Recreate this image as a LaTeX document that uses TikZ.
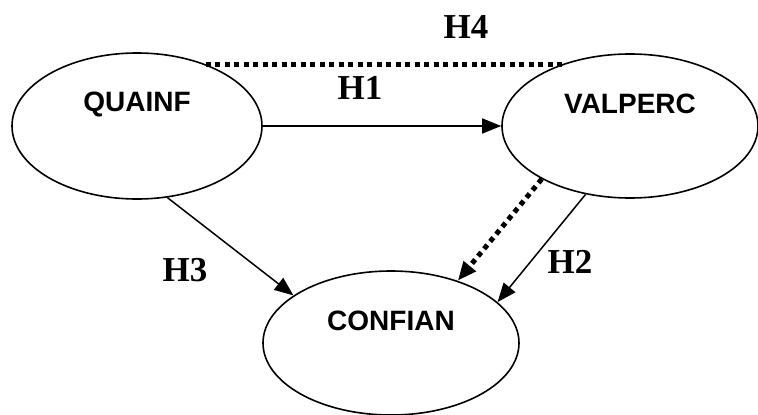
\documentclass[tikz,border=0pt]{standalone}
\usepackage{fontspec}
\setmainfont{Liberation Serif}
\setsansfont{Liberation Sans}
\usetikzlibrary{shapes.geometric,arrows.meta}

\begin{document}
\begin{tikzpicture}[x=1pt, y=-1pt,
  oval/.style={ellipse, draw, line width=1.6pt, inner sep=0pt},
  vartext/.style={font=\sffamily\bfseries\fontsize{28}{28}\selectfont, yshift=22pt},
  hyp/.style={font=\bfseries\fontsize{35}{35}\selectfont},
  tip/.style={-{Triangle[length=19pt,width=15pt]}},
  link/.style={line width=1.5pt, tip},
  dots/.style={line width=5pt, dash pattern=on 5pt off 4.5pt}]
  \useasboundingbox (0,0) rectangle (758,415);

  \node[oval, minimum width=250pt, minimum height=146pt,
    label={[vartext]center:QUAINF}] (quainf) at (137,126) {};
  \node[oval, minimum width=256pt, minimum height=144pt,
    label={[vartext]center:VALPERC}] (valperc) at (630,126) {};
  \node[oval, minimum width=256pt, minimum height=144pt,
    label={[vartext]center:CONFIAN}] (confian) at (391,343) {};

  \draw[link] (quainf) -- (valperc);
  \draw[link] (quainf.-67) -- (confian.154);
  \draw[link] (valperc.-123) -- (confian.21);
  \draw[dots, tip] (valperc.-149) -- (confian.43);
  \draw[dots] (quainf.42) -- (quainf.42 -| valperc.138);

  \node[hyp] (h1) at (360,88) {H1};
  \node[hyp] (h2) at (570,262) {H2};
  \node[hyp] (h3) at (185,270) {H3};
  \node[hyp] (h4) at (466,27) {H4};
\end{tikzpicture}
\end{document}
